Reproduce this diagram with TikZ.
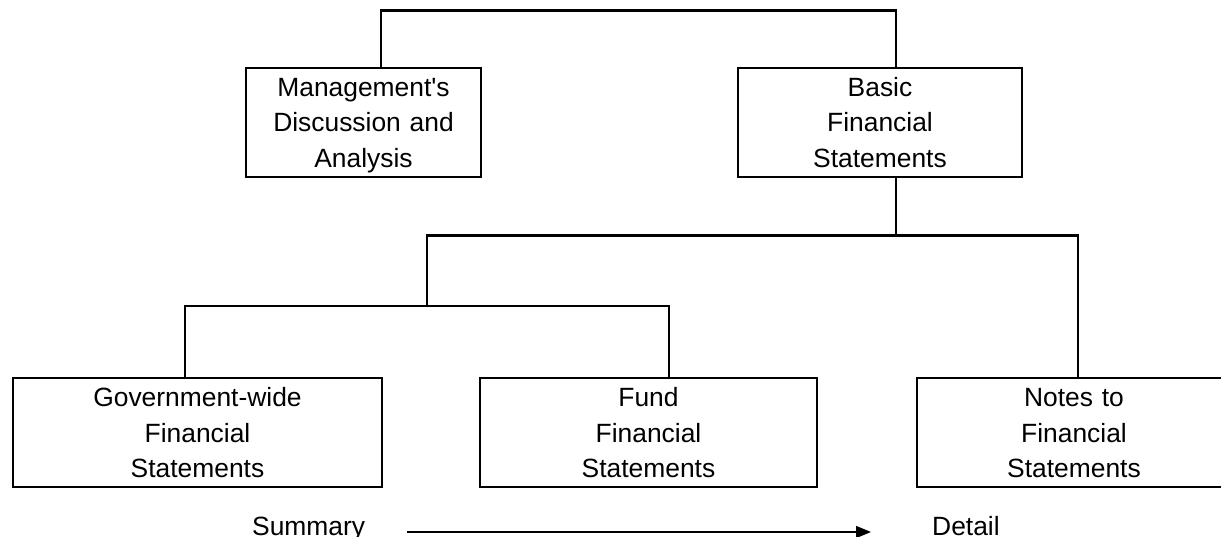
\documentclass[tikz,border=0pt]{standalone}
\usepackage{fontspec}
\setmainfont{Liberation Sans}
\usetikzlibrary{arrows.meta}
\begin{document}
\begin{tikzpicture}[x=1pt,y=-1pt]
    \tikzstyle{every node}+=[inner sep=0pt]
    \tikzstyle{stmt}=[draw=black, line width=2.8pt, minimum height=109pt, align=center, text height=22pt, text depth=74pt, font=\fontsize{26.4}{35.5}\selectfont]
    \tikzstyle{link}=[black, line width=2.8pt]
    \tikzstyle{lbl}=[font=\fontsize{26.4}{35.5}\selectfont]
    \useasboundingbox (0,0) rectangle (1221,537);
    \node [stmt, text width=235pt] (mda) at (363.5,122.5) {Management\textquotesingle s\\Discussion and\\Analysis};
    \node [stmt, text width=284pt] (bfs) at (880,122.5) {Basic\\Financial\\Statements};
    \node [stmt, text width=369pt] (gov) at (197.5,432.5) {Government-wide\\Financial\\Statements};
    \node [stmt, text width=337pt] (fund) at (648.5,432.5) {Fund\\Financial\\Statements};
    \node [stmt, text width=314pt] (notes) at (1074,432.5) {Notes to\\Financial\\Statements};
    \draw [link] ([xshift=17.5pt]mda.north) -- ++(0,-56) -| ([xshift=16pt]bfs.north);
    \draw [link] ([xshift=16pt]bfs.south) -- ++(0,57) coordinate (bsplit);
    \coordinate (fsplit) at (427,306);
    \draw [link] ([xshift=4pt]notes.north) |- (fsplit |- bsplit) -- (fsplit);
    \draw [link] ([xshift=-12.5pt]gov.north) |- (fsplit) -| ([xshift=20.5pt]fund.north);
    \node [lbl, anchor=base west] (summary) at (252,535) {Summary};
    \node [lbl, anchor=base west] (detail) at (932,535) {Detail};
    \draw [black, line width=1.6pt, -{Triangle[length=15pt,width=12pt]}] ([xshift=42pt,yshift=3pt]summary.base east) -- ([xshift=-61pt,yshift=3pt]detail.base west);
\end{tikzpicture}
\end{document}
